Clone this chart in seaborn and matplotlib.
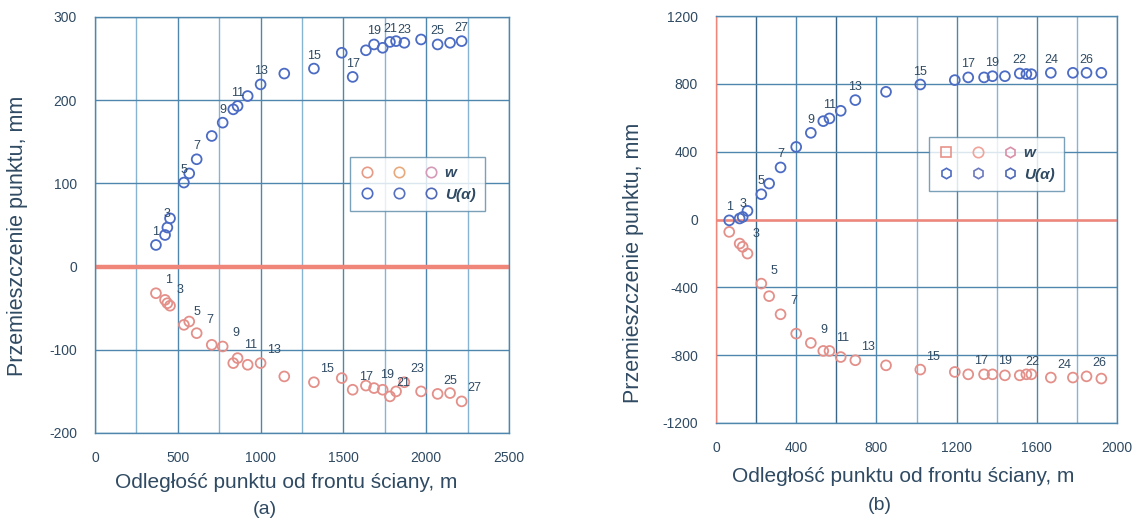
import matplotlib
matplotlib.use("Agg")
import matplotlib.pyplot as plt
import seaborn as sns
import pandas as pd
from matplotlib.lines import Line2D

# ---------------- data: panel (a) ----------------
a_dist = [368, 423, 437, 453, 537, 569, 614, 705, 771, 835, 861, 922, 1000, 1143,
          1322, 1490, 1556, 1636, 1685, 1737, 1781, 1818, 1868, 1969, 2069, 2144, 2214]
a_w = [-32, -40, -44, -47, -70, -66, -80, -94, -96, -116, -110, -118, -116, -132,
       -139, -134, -148, -143, -146, -148, -156, -150, -139, -150, -153, -152, -162]
a_u = [26, 38, 47, 58, 101, 112, 129, 157, 173, 189, 193, 205, 219, 232,
       238, 257, 228, 260, 267, 263, 270, 271, 269, 273, 267, 269, 271]
a_labels_u = ["1", "", "3", "", "5", "", "7", "", "9", "", "11", "", "13", "",
              "15", "", "17", "", "19", "", "21", "", "23", "", "25", "", "27"]
a_labels_w = a_labels_u

# ---------------- data: panel (b) ----------------
b_dist = [66, 118, 133, 157, 226, 265, 322, 400, 473, 535, 566, 622, 695, 848,
          1019, 1191, 1258, 1337, 1379, 1441, 1515, 1548, 1573, 1670, 1780, 1848, 1922]
b_w = [-73, -142, -161, -201, -378, -452, -559, -673, -728, -775, -775, -811, -830, -860,
       -885, -899, -913, -913, -913, -919, -919, -913, -913, -932, -932, -925, -938]
b_u = [-5, 6, 15, 51, 149, 212, 307, 428, 511, 580, 596, 641, 704, 753,
       796, 822, 838, 838, 845, 845, 861, 858, 857, 865, 865, 865, 865]
b_labels_u = ["1", "", "3", "", "5", "", "7", "", "9", "", "11", "", "13", "",
              "15", "", "17", "", "19", "", "22", "", "", "24", "", "26", ""]
b_labels_w = ["", "", "3", "", "5", "", "7", "", "9", "", "11", "", "13", "",
              "15", "", "17", "", "19", "", "22", "", "", "24", "", "26", ""]

x_title = "Odległość punktu od frontu ściany, m"
y_title = "Przemieszczenie punktu, mm"
legend_w = "w"
legend_u = "U(α)"

# ---------------- style ----------------
sns.set_style("white")
plt.rcParams["font.family"] = ["Liberation Sans", "DejaVu Sans"]
plt.rcParams["axes.unicode_minus"] = False

TXT = "#2f4a62"
GRID_MAJ = "#4f86ad"
GRID_MIN = "#86b4d2"
RED = "#f0857a"
W_COL = "#e4908a"
U_COL = "#4c6cc4"

W, H = 1142, 522
fig = plt.figure(figsize=(W / 100, H / 100), dpi=100)


def frac_rect(x0, y0, x1, y1):
    return [x0 / W, 1 - y1 / H, (x1 - x0) / W, (y1 - y0) / H]


axA = fig.add_axes(frac_rect(95, 17, 509, 433))
axB = fig.add_axes(frac_rect(716, 16, 1117, 423))


def draw_panel(ax, dist, w, u, lab_w, lab_u, xlim, ylim, xmaj, xmin, ymaj, ymin,
               zero_lw, red_left):
    df = pd.DataFrame({
        "dist": list(dist) + list(dist),
        "val": list(w) + list(u),
        "kind": ["w"] * len(dist) + ["U"] * len(dist),
    })
    ax.set_xlim(*xlim)
    ax.set_ylim(*ylim)
    ax.set_xticks(xmaj)
    ax.set_xticks(xmin, minor=True)
    ax.set_yticks(ymaj)
    ax.set_yticks(ymin, minor=True)
    ax.grid(True, which="major", axis="both", color=GRID_MAJ, lw=1.0, zorder=0)
    ax.grid(True, which="minor", axis="x", color=GRID_MIN, lw=1.0, zorder=0)
    ax.set_axisbelow(True)
    for s in ax.spines.values():
        s.set_color(GRID_MAJ)
        s.set_linewidth(1.0)
    if red_left:
        ax.spines["left"].set_color(RED)
    ax.tick_params(axis="both", which="major", direction="out", length=9, width=1.0,
                   color=GRID_MAJ, labelcolor=TXT, labelsize=10, pad=4)
    ax.tick_params(axis="both", which="minor", direction="out", length=3.5, width=1.0,
                   color=GRID_MAJ)
    ax.axhline(0, color=RED, lw=zero_lw, zorder=1)

    sns.scatterplot(data=df, x="dist", y="val", hue="kind",
                    palette={"w": W_COL, "U": U_COL}, s=50, marker="o",
                    legend=False, ax=ax, zorder=3)
    coll = ax.collections[-1]
    fc = coll.get_facecolors()
    coll.set_edgecolors(fc)
    coll.set_facecolors("none")
    coll.set_linewidths(1.3)
    ax.set_xlabel("")
    ax.set_ylabel("")

    for xv, yv, t in zip(dist, u, lab_u):
        if t:
            ax.annotate(t, (xv, yv), xytext=(0, 13), textcoords="offset pixels",
                        ha="center", va="center", fontsize=9, color=TXT, zorder=4)
    for xv, yv, t in zip(dist, w, lab_w):
        if t:
            ax.annotate(t, (xv, yv), xytext=(13, 13), textcoords="offset pixels",
                        ha="center", va="center", fontsize=9, color=TXT, zorder=4)


draw_panel(axA, a_dist, a_w, a_u, a_labels_w, a_labels_u,
           (0, 2500), (-200, 300),
           [0, 500, 1000, 1500, 2000, 2500], [250, 750, 1250, 1750, 2250],
           [-200, -100, 0, 100, 200, 300], [-150, -50, 50, 150, 250],
           3.2, False)
draw_panel(axB, b_dist, b_w, b_u, b_labels_w, b_labels_u,
           (0, 2000), (-1200, 1200),
           [0, 400, 800, 1200, 1600, 2000], [200, 600, 1000, 1400, 1800],
           [-1200, -800, -400, 0, 400, 800, 1200], [-1000, -600, -200, 200, 600, 1000],
           1.8, True)

# darker minor grid lines near the origin of panel (b)
for tick, loc in zip(axB.xaxis.get_minor_ticks(), axB.xaxis.get_minorticklocs()):
    if loc in (200, 600):
        tick.gridline.set_color("#3a6585")


def make_legend(ax, w_markers, w_cols, u_markers, u_cols, anchor):
    hs = []
    for i in range(3):
        hs.append(Line2D([], [], ls="none", marker=w_markers[i], mfc="none",
                         mec=w_cols[i], ms=7.5, mew=1.2))
        hs.append(Line2D([], [], ls="none", marker=u_markers[i], mfc="none",
                         mec=u_cols[i], ms=7.5, mew=1.2))
    labels = ["", "", "", "", legend_w, legend_u]
    leg = ax.legend(hs, labels, ncol=3, loc="upper left",
                    bbox_to_anchor=(anchor[0] / W, 1 - anchor[1] / H),
                    bbox_transform=fig.transFigure, frameon=True, fancybox=False,
                    prop={"style": "italic", "size": 11, "weight": "bold"},
                    handlelength=1.0, handletextpad=0.4, columnspacing=0.7,
                    borderpad=0.6, labelspacing=0.5, borderaxespad=0)
    leg.get_frame().set_edgecolor("#5a8aa8")
    leg.get_frame().set_linewidth(1.0)
    for t in leg.get_texts():
        t.set_color(TXT)
    leg.set_zorder(5)


make_legend(axA, ["o", "o", "o"], ["#e79a86", "#e8aa7c", "#d49ab8"],
            ["o", "o", "o"], ["#4d6cc6", "#5870c0", "#4f68b8"], (350, 157))
make_legend(axB, ["s", "o", "h"], ["#e7938a", "#f0a39a", "#da8fa8"],
            ["h", "h", "h"], ["#4d6cc6", "#6a78c0", "#4f68b8"], (929, 137))

# axis titles and captions
fig.text(18 / W, 1 - 236 / H, y_title, rotation=90, ha="center", va="center",
         fontsize=15.5, color=TXT)
fig.text(634 / W, 1 - 263 / H, y_title, rotation=90, ha="center", va="center",
         fontsize=15.5, color=TXT)
fig.text(286 / W, 1 - 482 / H, x_title, ha="center", va="center", fontsize=15, color=TXT)
fig.text(903 / W, 1 - 477 / H, x_title, ha="center", va="center", fontsize=15, color=TXT)
fig.text(265 / W, 1 - 510 / H, "(a)", ha="center", va="center", fontsize=14, color=TXT)
fig.text(880 / W, 1 - 505 / H, "(b)", ha="center", va="center", fontsize=14, color=TXT)

fig.savefig("out.png", dpi=100)
